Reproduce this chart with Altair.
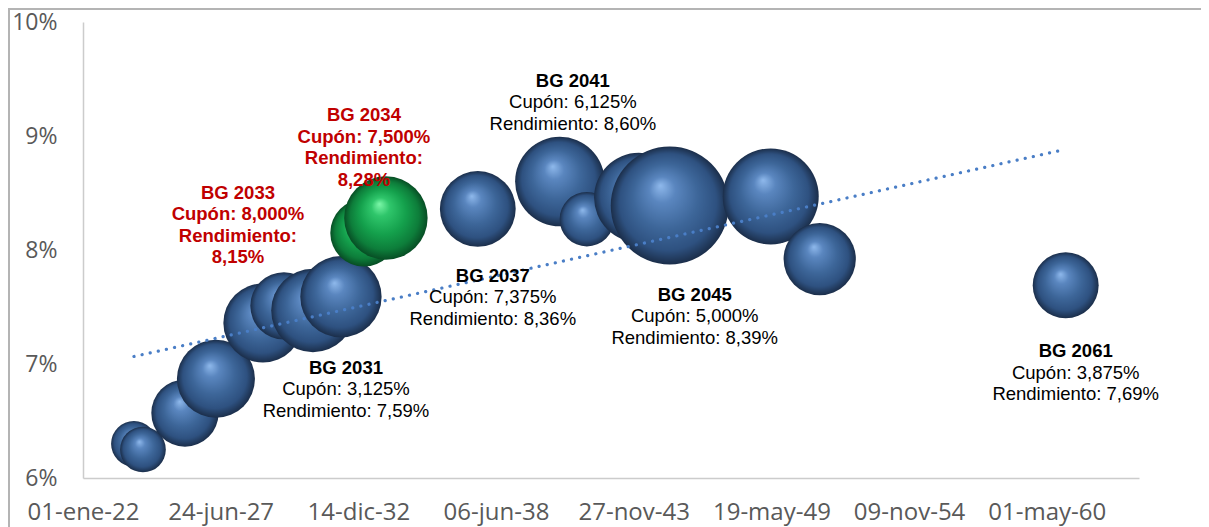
import json
import altair as alt
import pandas as pd

# ---------------- data ----------------
DATES = ["2024-01-11", "2024-05-21", "2026-01-21", "2027-04-16", "2029-02-27",
         "2029-12-29", "2031-02-23", "2032-04-05", "2033-03-05", "2034-01-18",
         "2037-09-14", "2040-12-19", "2042-01-15", "2044-02-09", "2045-05-03",
         "2049-05-09", "2051-04-21", "2061-01-31"]
YIELDS = [6.30, 6.25, 6.57, 6.87, 7.36, 7.51, 7.47, 7.59, 8.15, 8.28,
          8.36, 8.60, 8.27, 8.46, 8.39, 8.47, 7.92, 7.69]
AMOUNTS = [300, 300, 650, 875, 900, 650, 1000, 950, 650, 1000,
           825, 1150, 425, 1150, 2000, 1325, 750, 625]
BONDS = ["", "", "", "", "", "", "", "BG 2031", "BG 2033", "BG 2034",
         "BG 2037", "BG 2041", "", "", "BG 2045", "", "", "BG 2061"]
COUPONS = ["", "", "", "", "", "", "", "3,125", "8,000", "7,500",
           "7,375", "6,125", "", "", "5,000", "", "", "3,875"]
NEW_ISSUES = ["BG 2033", "BG 2034"]

AXIS_START = "2022-01-01"
AXIS_END = "2064-01-01"
X_TICK_STEP = 2000  # days
X_TICK_LABELS = ["01-ene-22", "24-jun-27", "14-dic-32", "06-jun-38",
                 "27-nov-43", "19-may-49", "09-nov-54", "01-may-60"]
Y_TICKS = [6, 7, 8, 9, 10]
SIZE_MAX = 2000

# ---------------- styles ----------------
BLUE_GRAD = {"gradient": "radial", "x1": 0.42, "y1": 0.33, "r1": 0,
             "x2": 0.5, "y2": 0.5, "r2": 0.5,
             "stops": [{"offset": 0.0, "color": "#8fb9ec"},
                       {"offset": 0.22, "color": "#5a86bf"},
                       {"offset": 0.55, "color": "#3d6699"},
                       {"offset": 0.82, "color": "#2e5180"},
                       {"offset": 1.0, "color": "#1b2e4a"}]}
GREEN_GRAD = {"gradient": "radial", "x1": 0.42, "y1": 0.33, "r1": 0,
              "x2": 0.5, "y2": 0.5, "r2": 0.5,
              "stops": [{"offset": 0.0, "color": "#7cf7a8"},
                        {"offset": 0.22, "color": "#2fc66b"},
                        {"offset": 0.55, "color": "#14a04c"},
                        {"offset": 0.82, "color": "#0d7d3a"},
                        {"offset": 1.0, "color": "#074d24"}]}
RED = "#C00000"
TEXT_FONT = "Liberation Sans"
TEXT_SIZE = 18.5
LINE_H = 21.5
# (dx, dy) of the title line centre relative to the bubble centre
LABEL_OFFSETS = {
    "BG 2031": (5, 70),
    "BG 2033": (-126, -41),
    "BG 2034": (-22, -104),
    "BG 2037": (15, 66),
    "BG 2041": (13, -102),
    "BG 2045": (25, 88),
    "BG 2061": (10, 65),
}

PLOT_W, PLOT_H = 1056, 456
PAD = {"left": 75, "top": 14, "right": 62, "bottom": 49}

# ---------------- table ----------------
df = pd.DataFrame({"date": DATES, "yield": YIELDS, "amount": AMOUNTS,
                   "bond": BONDS, "coupon": COUPONS})
df["days"] = (pd.to_datetime(df["date"]) - pd.Timestamp(AXIS_START)).dt.days
df["yfmt"] = df["yield"].map(lambda v: f"{v:.2f}".replace(".", ","))
df["group"] = df["bond"].map(lambda b: "new" if b in NEW_ISSUES else "old")
df["body"] = "Cupón: " + df["coupon"] + "%\nRendimiento: " + df["yfmt"] + "%"
df["full"] = (df["bond"] + "\nCupón: " + df["coupon"] + "%\nRendimiento:\n"
              + df["yfmt"] + "%")

x_max = (pd.Timestamp(AXIS_END) - pd.Timestamp(AXIS_START)).days
tick_vals = [i * X_TICK_STEP for i in range(len(X_TICK_LABELS))]
label_expr = f"{json.dumps(X_TICK_LABELS)}[round(datum.value / {X_TICK_STEP})]"

x_enc = alt.X("days:Q",
              scale=alt.Scale(domain=[0, x_max], nice=False, zero=False),
              axis=alt.Axis(values=tick_vals, labelExpr=label_expr, title=None,
                            labelFontSize=24, labelPadding=22, labelFlush=False,
                            labelOverlap=False))
y_enc = alt.Y("yield:Q",
              scale=alt.Scale(domain=[Y_TICKS[0], Y_TICKS[-1]], nice=False, zero=False),
              axis=alt.Axis(values=Y_TICKS, labelExpr="datum.value + '%'", title=None,
                            labelFontSize=23, labelPadding=26))
size_enc = alt.Size("amount:Q",
                    scale=alt.Scale(type="linear", domain=[0, SIZE_MAX], range=[0, 118 ** 2]),
                    legend=None)

base = alt.Chart(df).encode(x=x_enc, y=y_enc)

blue = base.transform_filter(alt.datum.group == "old").mark_circle(
    fill=BLUE_GRAD, opacity=1, strokeWidth=0).encode(size=size_enc)
green = base.transform_filter(alt.datum.group == "new").mark_circle(
    fill=GREEN_GRAD, opacity=1, strokeWidth=0).encode(size=size_enc)

trend = base.transform_regression("days", "yield").mark_line(
    color="#4a7ec6", strokeWidth=3.2, strokeDash=[0.1, 8.2], strokeCap="round")

texts = []
for name, (dx, dy) in LABEL_OFFSETS.items():
    sub = base.transform_filter(alt.datum.bond == name)
    if name in NEW_ISSUES:
        texts.append(sub.mark_text(font=TEXT_FONT, fontSize=TEXT_SIZE, fontWeight="bold",
                                   color=RED, align="center", baseline="top",
                                   lineBreak="\n", lineHeight=LINE_H,
                                   dx=dx, dy=dy - 8).encode(text="full:N"))
    else:
        texts.append(sub.mark_text(font=TEXT_FONT, fontSize=TEXT_SIZE, fontWeight="bold",
                                   color="#000000", align="center", baseline="middle",
                                   dx=dx, dy=dy + 1).encode(text="bond:N"))
        texts.append(sub.mark_text(font=TEXT_FONT, fontSize=TEXT_SIZE,
                                   color="#000000", align="center", baseline="top",
                                   lineBreak="\n", lineHeight=LINE_H,
                                   dx=dx, dy=dy + LINE_H - 8).encode(text="body:N"))

# chart-area frame (top and left edges visible in the reference)
frame_top = alt.Chart(df).mark_rule(color="#b4b4b4", strokeWidth=1.5).encode(
    x=alt.value(-PAD["left"]), x2=alt.value(PLOT_W + PAD["right"]),
    y=alt.value(-PAD["top"] + 0.75))
frame_left = alt.Chart(df).mark_rule(color="#b4b4b4", strokeWidth=1.5).encode(
    x=alt.value(-PAD["left"] + 0.75), y=alt.value(-PAD["top"]),
    y2=alt.value(PLOT_H + PAD["bottom"]))

chart = alt.layer(blue, green, trend, *texts, frame_top, frame_left).properties(
    width=PLOT_W, height=PLOT_H, padding=PAD,
    autosize=alt.AutoSizeParams(type="none"),
).configure_view(stroke=None).configure_axis(
    grid=False, ticks=False, tickSize=0, domainColor="#cccccc", domainWidth=1.5,
    labelFont="Open Sans", labelColor="#595959",
)

chart.save("out.html", embed_options={"renderer": "svg", "actions": False})
